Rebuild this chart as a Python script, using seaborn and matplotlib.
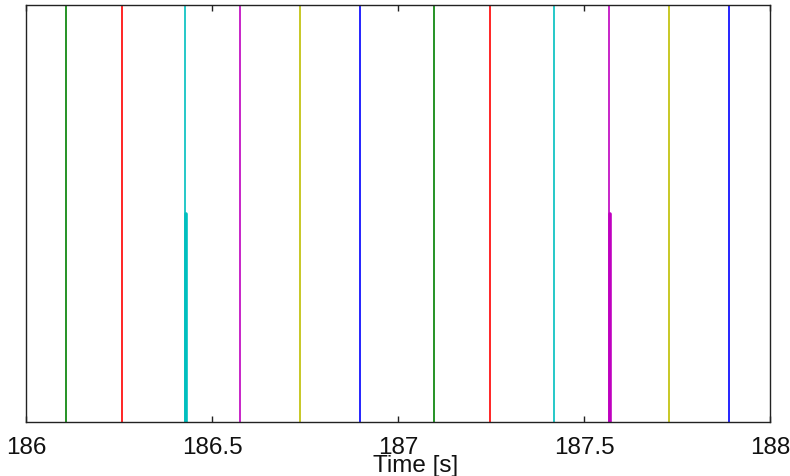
import numpy as np
import pandas as pd
import matplotlib
matplotlib.use("Agg")
import matplotlib.pyplot as plt
import seaborn as sns

# Event times (s) and their colours (MATLAB default colour order)
event_times = [186.107, 186.258, 186.427, 186.575, 186.737, 186.898,
               187.098, 187.248, 187.420, 187.568, 187.728, 187.889]
event_colors = ["#008000", "#ff0000", "#00bfbf", "#bf00bf", "#bfbf00", "#0000ff",
                "#008000", "#ff0000", "#00bfbf", "#bf00bf", "#bfbf00", "#0000ff"]
# Half-height (thick) markers
half_times = [186.431, 187.569]
half_colors = ["#00bfbf", "#bf00bf"]
half_height = 0.5

xticks = [186, 186.5, 187, 187.5, 188]
xticklabels = ["186", "186.5", "187", "187.5", "188"]

sns.set_style("white")
plt.rcParams["font.family"] = ["Liberation Sans", "DejaVu Sans"]

rows = []
for i, t in enumerate(event_times):
    rows.append({"t": t, "y": 0.0, "id": f"e{i}"})
    rows.append({"t": t, "y": 1.0, "id": f"e{i}"})
df = pd.DataFrame(rows)

hrows = []
for i, t in enumerate(half_times):
    hrows.append({"t": t, "y": 0.0, "id": f"h{i}"})
    hrows.append({"t": t, "y": half_height, "id": f"h{i}"})
hdf = pd.DataFrame(hrows)

fig = plt.figure(figsize=(7.9, 4.76), dpi=100)
ax = fig.add_axes([26 / 790, 54 / 476, 744 / 790, 417 / 476])

sns.lineplot(data=df, x="t", y="y", hue="id",
             palette=dict(zip(df["id"].unique(), event_colors)),
             estimator=None, legend=False, linewidth=1.2, ax=ax)
sns.lineplot(data=hdf, x="t", y="y", hue="id",
             palette=dict(zip(hdf["id"].unique(), half_colors)),
             estimator=None, legend=False, linewidth=2.6, ax=ax)

ax.set_xlim(186, 188)
ax.set_ylim(0, 1)
ax.set_yticks([])
ax.set_xticks(xticks)
ax.set_xticklabels(xticklabels)
ax.tick_params(axis="x", direction="in", length=4, width=1, color="#222222",
               top=True, bottom=True, labelsize=17.5, pad=10.5, labelcolor="#111111")
for s in ax.spines.values():
    s.set_color("#222222")
    s.set_linewidth(1.0)
ax.set_ylabel("")
ax.set_xlabel("Time [s]", fontsize=17.5, color="#111111")
ax.xaxis.set_label_coords(0.524, -0.078)

fig.savefig("out.png", dpi=100)
